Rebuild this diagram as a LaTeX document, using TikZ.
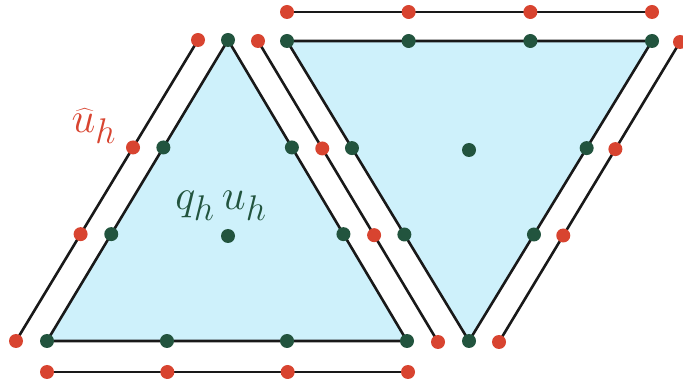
\documentclass[tikz,border=0pt]{standalone}
\usetikzlibrary{calc}
\definecolor{dred}{RGB}{216,68,48}
\definecolor{dgreen}{RGB}{34,84,62}
\definecolor{cfill}{RGB}{206,241,251}
\tikzset{
  gdot/.style={circle,fill=dgreen,inner sep=0pt,minimum size=14pt},
  rdot/.style={circle,fill=dred,inner sep=0pt,minimum size=14pt},
  edgeline/.style={black!90,line width=2.6pt},
  elem/.style={fill=cfill}
}
\begin{document}
\begin{tikzpicture}[x=1pt,y=-1pt]
\useasboundingbox (0,0) rectangle (683,387);
% left triangle vertices
\coordinate (LT) at (228,40);
\coordinate (LL) at (47,341);
\coordinate (LR) at (407,341);
\coordinate (LC) at (228,236);
% right triangle vertices
\coordinate (RL) at (287,41);
\coordinate (RR) at (652,41);
\coordinate (RB) at (469,341);
\coordinate (RC) at (469,150);
% edge points left triangle
\coordinate (La1) at ($(LT)!0.357!(LL)$);
\coordinate (La2) at ($(LT)!0.645!(LL)$);
\coordinate (Lb1) at ($(LT)!0.357!(LR)$);
\coordinate (Lb2) at ($(LT)!0.645!(LR)$);
\coordinate (Lc1) at ($(LL)!0.3333!(LR)$);
\coordinate (Lc2) at ($(LL)!0.6667!(LR)$);
% edge points right triangle
\coordinate (Ra1) at ($(RL)!0.357!(RB)$);
\coordinate (Ra2) at ($(RL)!0.645!(RB)$);
\coordinate (Rb1) at ($(RR)!0.357!(RB)$);
\coordinate (Rb2) at ($(RR)!0.645!(RB)$);
\coordinate (Rc1) at ($(RL)!0.3333!(RR)$);
\coordinate (Rc2) at ($(RL)!0.6667!(RR)$);
% trace lines (red)
\coordinate (H1t) at (198,40);  \coordinate (H1b) at (16,341);
\coordinate (H2t) at (258,41);  \coordinate (H2b) at (438,342);
\coordinate (H3t) at (680,42);  \coordinate (H3b) at (499,342);
\coordinate (H4l) at (287,12);  \coordinate (H4r) at (652,12);
\coordinate (H5l) at (47,372);  \coordinate (H5r) at (408,372);
\coordinate (H1a) at ($(H1t)!0.357!(H1b)$);
\coordinate (H1c) at ($(H1t)!0.645!(H1b)$);
\coordinate (H2a) at ($(H2t)!0.357!(H2b)$);
\coordinate (H2c) at ($(H2t)!0.645!(H2b)$);
\coordinate (H3a) at ($(H3t)!0.357!(H3b)$);
\coordinate (H3c) at ($(H3t)!0.645!(H3b)$);
\coordinate (H4a) at ($(H4l)!0.3333!(H4r)$);
\coordinate (H4c) at ($(H4l)!0.6667!(H4r)$);
\coordinate (H5a) at ($(H5l)!0.3333!(H5r)$);
\coordinate (H5c) at ($(H5l)!0.6667!(H5r)$);
% fills
\fill[elem] (LT) -- (LL) -- (LR) -- cycle;
\fill[elem] (RL) -- (RR) -- (RB) -- cycle;
% lines
\draw[edgeline,line join=round] (LT) -- (LL) -- (LR) -- cycle;
\draw[edgeline,line join=round] (RL) -- (RR) -- (RB) -- cycle;
\draw[edgeline] (H1t) -- (H1b);
\draw[edgeline] (H2t) -- (H2b);
\draw[edgeline] (H3t) -- (H3b);
\draw[edgeline] (H4l) -- (H4r);
\draw[edgeline] (H5l) -- (H5r);
% green dots
\foreach \p in {LT,LL,LR,LC,La1,La2,Lb1,Lb2,Lc1,Lc2,RL,RR,RB,RC,Ra1,Ra2,Rb1,Rb2,Rc1,Rc2}
  \node[gdot] (g\p) at (\p) {};
% red dots
\foreach \p in {H1t,H1b,H1a,H1c,H2t,H2b,H2a,H2c,H3t,H3b,H3a,H3c,H4l,H4r,H4a,H4c,H5l,H5r,H5a,H5c}
  \node[rdot] (r\p) at (\p) {};
% labels
\node[text=dred,anchor=base,scale=1.72,inner sep=0pt] (uhat) at (94,133) {\Huge$\widehat{u}_h$};
\node[text=dgreen,anchor=base,scale=1.72,inner sep=0pt] (quh) at (221,210) {\Huge$q_h\,u_h$};
\end{tikzpicture}
\end{document}
